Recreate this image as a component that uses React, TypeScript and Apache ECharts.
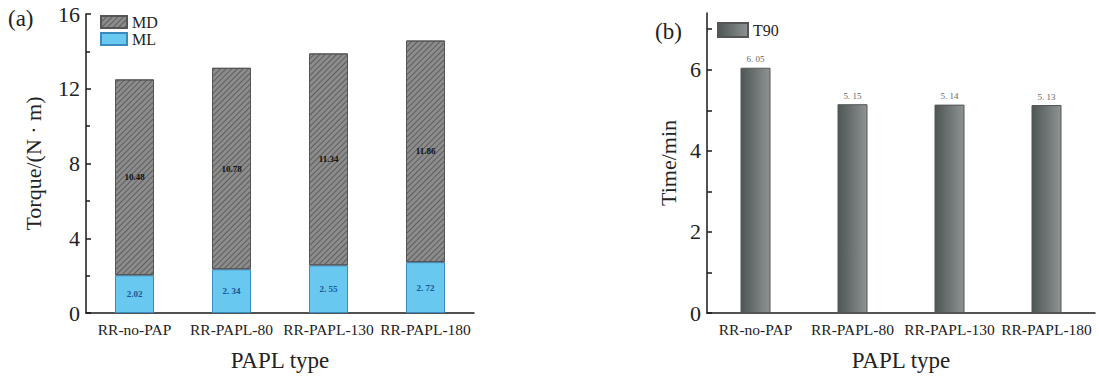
import React, { useEffect, useRef } from "react";
import * as echarts from "echarts";

const categories = ["RR-no-PAP", "RR-PAPL-80", "RR-PAPL-130", "RR-PAPL-180"];
const mlValues = [2.02, 2.34, 2.55, 2.72];
const mdValues = [10.48, 10.78, 11.34, 11.86];
const mlLabels = ["2.02", "2. 34", "2. 55", "2. 72"];
const mdLabels = ["10.48", "10.78", "11.34", "11.86"];
const totalLabels = ["12.68", "13.12", "13.89", "14.58"];
const t90Values = [6.05, 5.15, 5.14, 5.13];
const t90Labels = ["6. 05", "5. 15", "5. 14", "5. 13"];
const leftTicks = [0, 4, 8, 12, 16];
const rightLabelTicks = [0, 2, 4, 6];
const rightAllTicks = [0, 1, 2, 3, 4, 5, 6, 7];

const FONT = "Liberation Serif";

export default function App() {
  const ref = useRef<HTMLDivElement>(null);
  useEffect(() => {
    document.body.style.margin = "0";
    const chart = echarts.init(ref.current!, null, { renderer: "svg" });
    const axisLine = { show: true, lineStyle: { color: "#1a1a1a", width: 1.5 } };
    const xBase = (gi: number) => ({
      type: "category",
      gridIndex: gi,
      data: categories,
      axisLine,
      axisTick: { show: false },
      axisLabel: { fontFamily: FONT, fontSize: 15.5, color: "#222", margin: 8, interval: 0 },
      name: "PAPL type",
      nameLocation: "middle",
      nameGap: 36,
      nameTextStyle: { fontFamily: FONT, fontSize: 23, color: "#222" },
    });
    const totals = mlValues.map((v, i) => v + mdValues[i]);
    chart.setOption({
      animation: false,
      backgroundColor: "#fff",
      grid: [
        { left: 86, top: 14, width: 388, height: 304 },
        { left: 707, top: 13, width: 388, height: 305 },
      ],
      legend: [
        {
          data: ["MD", "ML"],
          left: 100,
          top: 14,
          orient: "vertical",
          itemWidth: 26,
          itemHeight: 12,
          itemGap: 1,
          icon: "rect",
          padding: 0,
          textStyle: { fontFamily: FONT, fontSize: 16, color: "#222", lineHeight: 13 },
        },
        {
          data: ["T90"],
          left: 717,
          top: 22,
          itemWidth: 30,
          itemHeight: 14,
          icon: "rect",
          padding: 0,
          textStyle: { fontFamily: FONT, fontSize: 16, color: "#222", lineHeight: 14 },
        },
      ],
      graphic: [
        { type: "text", left: 8, top: 7, style: { text: "(a)", font: `23px "${FONT}"`, fill: "#222" } },
        { type: "text", left: 655, top: 20, style: { text: "(b)", font: `23px "${FONT}"`, fill: "#222" } },
      ],
      xAxis: [xBase(0), xBase(1)],
      yAxis: [
        {
          type: "value",
          gridIndex: 0,
          min: leftTicks[0],
          max: leftTicks[leftTicks.length - 1],
          interval: 4,
          axisLine,
          axisTick: { show: true, inside: true, length: 5, lineStyle: { color: "#1a1a1a", width: 1.5 } },
          minorTick: { show: true, splitNumber: 2, length: 4, lineStyle: { color: "#1a1a1a", width: 1.5 } },
          splitLine: { show: false },
          axisLabel: { fontFamily: FONT, fontSize: 22, color: "#222", margin: 6 },
          name: "Torque/(N · m)",
          nameLocation: "middle",
          nameGap: 42,
          nameTextStyle: { fontFamily: FONT, fontSize: 22, color: "#222" },
        },
        {
          type: "value",
          gridIndex: 1,
          min: 0,
          max: 7.4,
          interval: 2,
          axisLine,
          axisTick: { show: true, inside: true, length: 5, customValues: rightAllTicks, lineStyle: { color: "#1a1a1a", width: 1.5 } },
          splitLine: { show: false },
          axisLabel: { fontFamily: FONT, fontSize: 22, color: "#222", margin: 6, customValues: rightLabelTicks },
          name: "Time/min",
          nameLocation: "middle",
          nameGap: 28,
          nameTextStyle: { fontFamily: FONT, fontSize: 22, color: "#222" },
        },
      ],
      series: [
        {
          name: "ML",
          type: "bar",
          xAxisIndex: 0,
          yAxisIndex: 0,
          stack: "torque",
          barWidth: 39,
          data: mlValues,
          itemStyle: { color: "#68c8ef", borderColor: "#3a8cc0", borderWidth: 1 },
          label: {
            show: true,
            position: "inside",
            formatter: (p: any) => mlLabels[p.dataIndex],
            color: "#1a5596",
            fontSize: 9,
            fontWeight: "bold",
            fontFamily: FONT,
          },
        },
        {
          name: "MD",
          type: "bar",
          xAxisIndex: 0,
          yAxisIndex: 0,
          stack: "torque",
          barWidth: 39,
          data: mdValues,
          itemStyle: {
            color: "#8c8c8c",
            borderColor: "#555",
            borderWidth: 1,
            decal: {
              symbol: "rect",
              symbolSize: 1,
              dashArrayX: [1, 0],
              dashArrayY: [1, 2.6],
              rotation: -Math.PI / 4,
              color: "rgba(55,55,55,0.55)",
            },
          },
          label: {
            show: true,
            position: "inside",
            formatter: (p: any) => mdLabels[p.dataIndex],
            color: "#111",
            fontSize: 9,
            fontWeight: "bold",
            fontFamily: FONT,
          },
        },
        {
          name: "Total",
          type: "scatter",
          xAxisIndex: 0,
          yAxisIndex: 0,
          data: totals,
          symbolSize: 0.1,
          itemStyle: { opacity: 0 },
          label: {
            show: true,
            position: "top",
            distance: 4,
            formatter: (p: any) => totalLabels[p.dataIndex],
            color: "#666",
            fontSize: 9,
            fontFamily: FONT,
          },
        },
        {
          name: "T90",
          type: "bar",
          xAxisIndex: 1,
          yAxisIndex: 1,
          barWidth: 30,
          data: t90Values,
          itemStyle: {
            color: new echarts.graphic.LinearGradient(0, 0, 1, 0, [
              { offset: 0, color: "#4e5656" },
              { offset: 1, color: "#8e9292" },
            ]),
            borderColor: "#555",
            borderWidth: 1,
          },
          label: {
            show: true,
            position: "top",
            distance: 4,
            formatter: (p: any) => t90Labels[p.dataIndex],
            color: "#666",
            fontSize: 9,
            fontFamily: FONT,
          },
        },
      ],
    });
    return () => chart.dispose();
  }, []);
  return <div ref={ref} style={{ width: 1099, height: 377 }} />;
}
